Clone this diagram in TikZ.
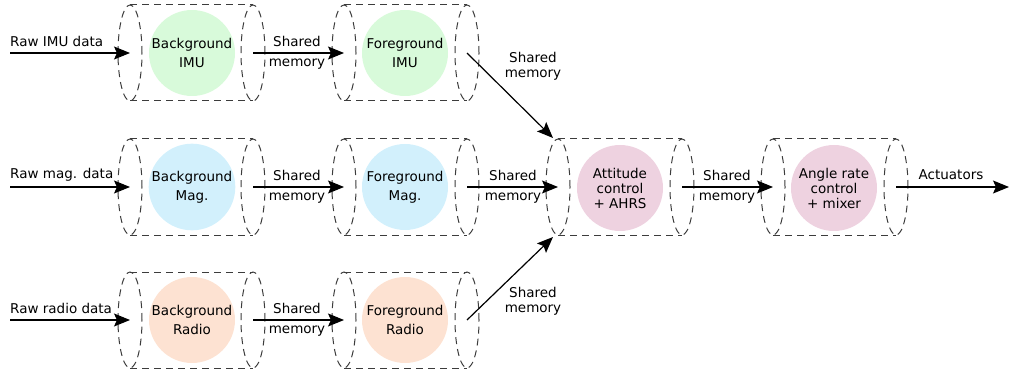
\documentclass[tikz,border=0pt]{standalone}
\usepackage{fontspec}
\setmainfont{DejaVu Sans}
\usetikzlibrary{arrows.meta}

\definecolor{imufill}{RGB}{216,250,218}
\definecolor{magfill}{RGB}{210,240,252}
\definecolor{radiofill}{RGB}{253,226,210}
\definecolor{ctrlfill}{RGB}{238,210,224}
\definecolor{pipegray}{RGB}{60,60,60}

% a dashed horizontal cylinder: name, left end x, right end x, centre y
\newcommand\taskpipe[4]{%
  \coordinate (#1-l) at (#2,#4);
  \coordinate (#1-r) at (#3,#4);
  \draw[pipeline] (#1-l) ellipse [x radius=12pt, y radius=48pt];
  \draw[pipeline] (#1-r) ellipse [x radius=12pt, y radius=48pt];
  \draw[pipeline] ([yshift=48pt]#1-l) -- ([yshift=48pt]#1-r);
  \draw[pipeline] ([yshift=-48pt]#1-l) -- ([yshift=-48pt]#1-r);
}

\begin{document}
\begin{tikzpicture}[x=1pt, y=-1pt,
  font=\fontsize{13.5}{16}\selectfont,
  pipeline/.style={draw=pipegray, line width=1pt, dash pattern=on 7pt off 5pt},
  task/.style={circle, minimum size=86pt, inner sep=0pt, align=center,
               font=\fontsize{13.5}{19}\selectfont},
  task3/.style={task, font=\fontsize{13.5}{15}\selectfont},
  flow/.style={line width=1.2pt, -{Stealth[length=16pt, width=13pt, inset=3pt]}},
  lbl/.style={inner sep=0pt},
]
\useasboundingbox (0,0) rectangle (1009,374);

% cylinders
\taskpipe{bimu}{130}{253}{53}
\taskpipe{fimu}{344}{467}{53}
\taskpipe{bmag}{130}{253}{187}
\taskpipe{fmag}{344}{467}{187}
\taskpipe{brad}{130}{253}{320}
\taskpipe{frad}{344}{467}{320}
\taskpipe{att}{558}{682}{187}
\taskpipe{rate}{773}{896}{187}

% tasks
\node[task, fill=imufill]   (bgimu) at (192,53)  {Background\\IMU};
\node[task, fill=imufill]   (fgimu) at (405,53)  {Foreground\\IMU};
\node[task, fill=magfill]   (bgmag) at (192,187) {Background\\Mag.};
\node[task, fill=magfill]   (fgmag) at (405,187) {Foreground\\Mag.};
\node[task, fill=radiofill] (bgrad) at (192,320) {Background\\Radio};
\node[task, fill=radiofill] (fgrad) at (405,320) {Foreground\\Radio};
\node[task3, fill=ctrlfill] (attc) at (620,188) {Attitude\\control\\+ AHRS};
\node[task3, fill=ctrlfill] (ratec) at (834,188) {Angle rate\\control\\+ mixer};

% raw inputs
\coordinate (in-imu) at (10,53);
\coordinate (in-mag) at (10,187);
\coordinate (in-rad) at (10,320);
\draw[flow] (in-imu) -- (bimu-l);
\draw[flow] (in-mag) -- (bmag-l);
\draw[flow] (in-rad) -- (brad-l);
\node[lbl, anchor=west] (t-imu) at (10,41)  {Raw IMU data};
\node[lbl, anchor=west] (t-mag) at (10,175) {Raw mag. data};
\node[lbl, anchor=west] (t-rad) at (10,308) {Raw radio data};

% shared memory links
\foreach \a/\b in {bimu/fimu, bmag/fmag, brad/frad, att/rate}{
  \draw[flow] (\a-r) -- (\b-l);
}
\node[lbl] (s1a) at (297,41)  {Shared};
\node[lbl] (s1b) at (297,64)  {memory};
\node[lbl] (s2a) at (297,175) {Shared};
\node[lbl] (s2b) at (297,198) {memory};
\node[lbl] (s3a) at (297,308) {Shared};
\node[lbl] (s3b) at (297,331) {memory};
\node[lbl] (s5a) at (727,175) {Shared};
\node[lbl] (s5b) at (727,198) {memory};

\coordinate (att-top) at (553,138);
\coordinate (att-bot) at (553,237);
\draw[flow] (fimu-r) -- (att-top);
\draw[flow] (fmag-r) -- (att-l);
\draw[flow] (frad-r) -- (att-bot);
\node[lbl] (s4a) at (513,175) {Shared};
\node[lbl] (s4b) at (513,198) {memory};
\node[lbl, align=center, font=\fontsize{13.5}{15}\selectfont] (sd1) at (533,66)  {Shared\\memory};
\node[lbl, align=center, font=\fontsize{13.5}{15}\selectfont] (sd2) at (533,301) {Shared\\memory};

% output
\coordinate (out) at (1009,187);
\draw[flow] (rate-r) -- (out);
\node[lbl] (t-act) at (951,175) {Actuators};
\end{tikzpicture}
\end{document}
